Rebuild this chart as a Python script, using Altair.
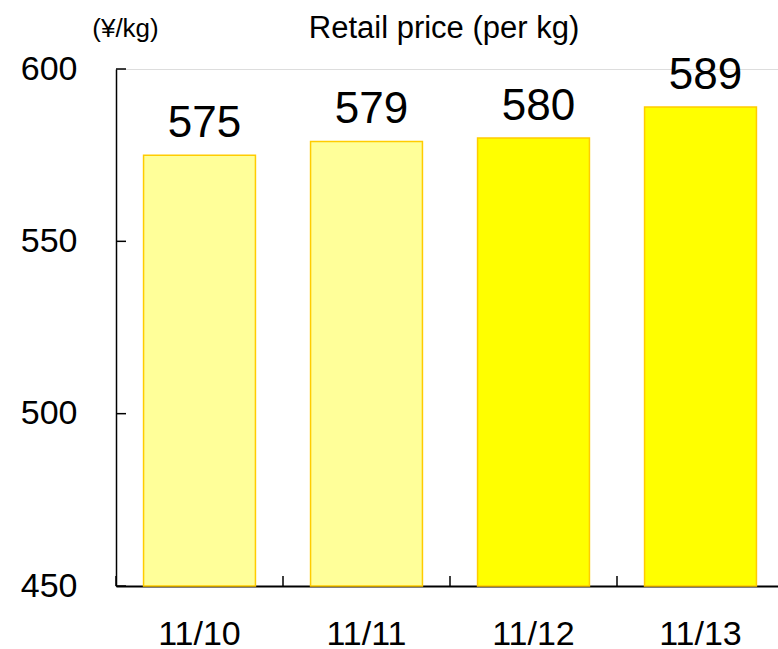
import altair as alt
import pandas as pd

# Retail price per kg over four days
dates = ["11/10", "11/11", "11/12", "11/13"]
prices = [575, 579, 580, 589]
fills = ["#FFFF99", "#FFFF99", "#FFFF00", "#FFFF00"]
y_ticks = [450, 500, 550, 600]

FONT = "Liberation Sans"
W, H = 662, 517
X_RANGE = [0, 668]  # the last category runs slightly past the right edge

bars_df = pd.DataFrame({"date": dates, "price": prices, "fill": fills})
ytick_df = pd.DataFrame({"v": y_ticks})
xtick_df = pd.DataFrame({"date": dates})

y_scale = alt.Scale(domain=[450, 600], zero=False, nice=False)
x_scale = alt.Scale(domain=dates, range=X_RANGE, paddingInner=0.33, paddingOuter=0.165)

bars = alt.Chart(bars_df).mark_bar(stroke="#FFCC00", strokeWidth=1.5).encode(
    x=alt.X("date:N", sort=dates, scale=x_scale,
            axis=alt.Axis(title=None, labelAngle=0, ticks=False, tickSize=0,
                          labelFont=FONT, labelFontSize=34, labelColor="#000",
                          labelPadding=31, domainColor="#000", domainWidth=2)),
    y=alt.Y("price:Q", scale=y_scale,
            axis=alt.Axis(values=y_ticks, ticks=False, tickSize=0, grid=False,
                          labelFont=FONT, labelFontSize=34, labelColor="#000",
                          labelPadding=39, domainColor="#000", domainWidth=1.5,
                          title="(¥/kg)", titleAngle=0, titleFont=FONT,
                          titleFontSize=26, titleFontWeight="normal",
                          titleColor="#000", titleAlign="center",
                          titleBaseline="alphabetic", titleX=9, titleY=-33)),
    y2=alt.datum(450),
    fill=alt.Fill("fill:N", scale=None),
)

labels = alt.Chart(bars_df).mark_text(
    font=FONT, fontSize=44, baseline="alphabetic", dy=-18, dx=5, color="#000"
).encode(
    x=alt.X("date:N", sort=dates, scale=x_scale),
    y=alt.Y("price:Q", scale=y_scale),
    text=alt.Text("price:Q"),
)

# inward ticks on the value axis
yticks = alt.Chart(ytick_df).mark_rule(color="#000", strokeWidth=1.5).encode(
    y=alt.Y("v:Q", scale=y_scale),
    x=alt.value(0),
    x2=alt.value(10),
)

base = alt.layer(bars, labels, yticks)

# inward ticks on the category axis, at segment boundaries
xticks = alt.Chart(xtick_df).mark_rule(color="#000", strokeWidth=1.5).encode(
    x=alt.X("date:N", sort=dates, bandPosition=0,
            scale=alt.Scale(domain=dates, range=X_RANGE, paddingInner=0, paddingOuter=0),
            axis=None),
    y=alt.value(H),
    y2=alt.value(H - 10),
)

chart = alt.layer(base, xticks).resolve_scale(x="independent").properties(
    width=W,
    height=H,
    title=alt.TitleParams("Retail price (per kg)", font=FONT, fontSize=31,
                          fontWeight="normal", color="#000",
                          baseline="alphabetic", offset=-54, dx=-3,
                          anchor="middle"),
    autosize=alt.AutoSizeParams(type="none"),
    padding={"left": 116, "top": 69, "right": 0, "bottom": 63},
).configure_view(stroke=None).configure(background="#ffffff")

chart.save("out.html", embed_options={"renderer": "svg", "actions": False})
